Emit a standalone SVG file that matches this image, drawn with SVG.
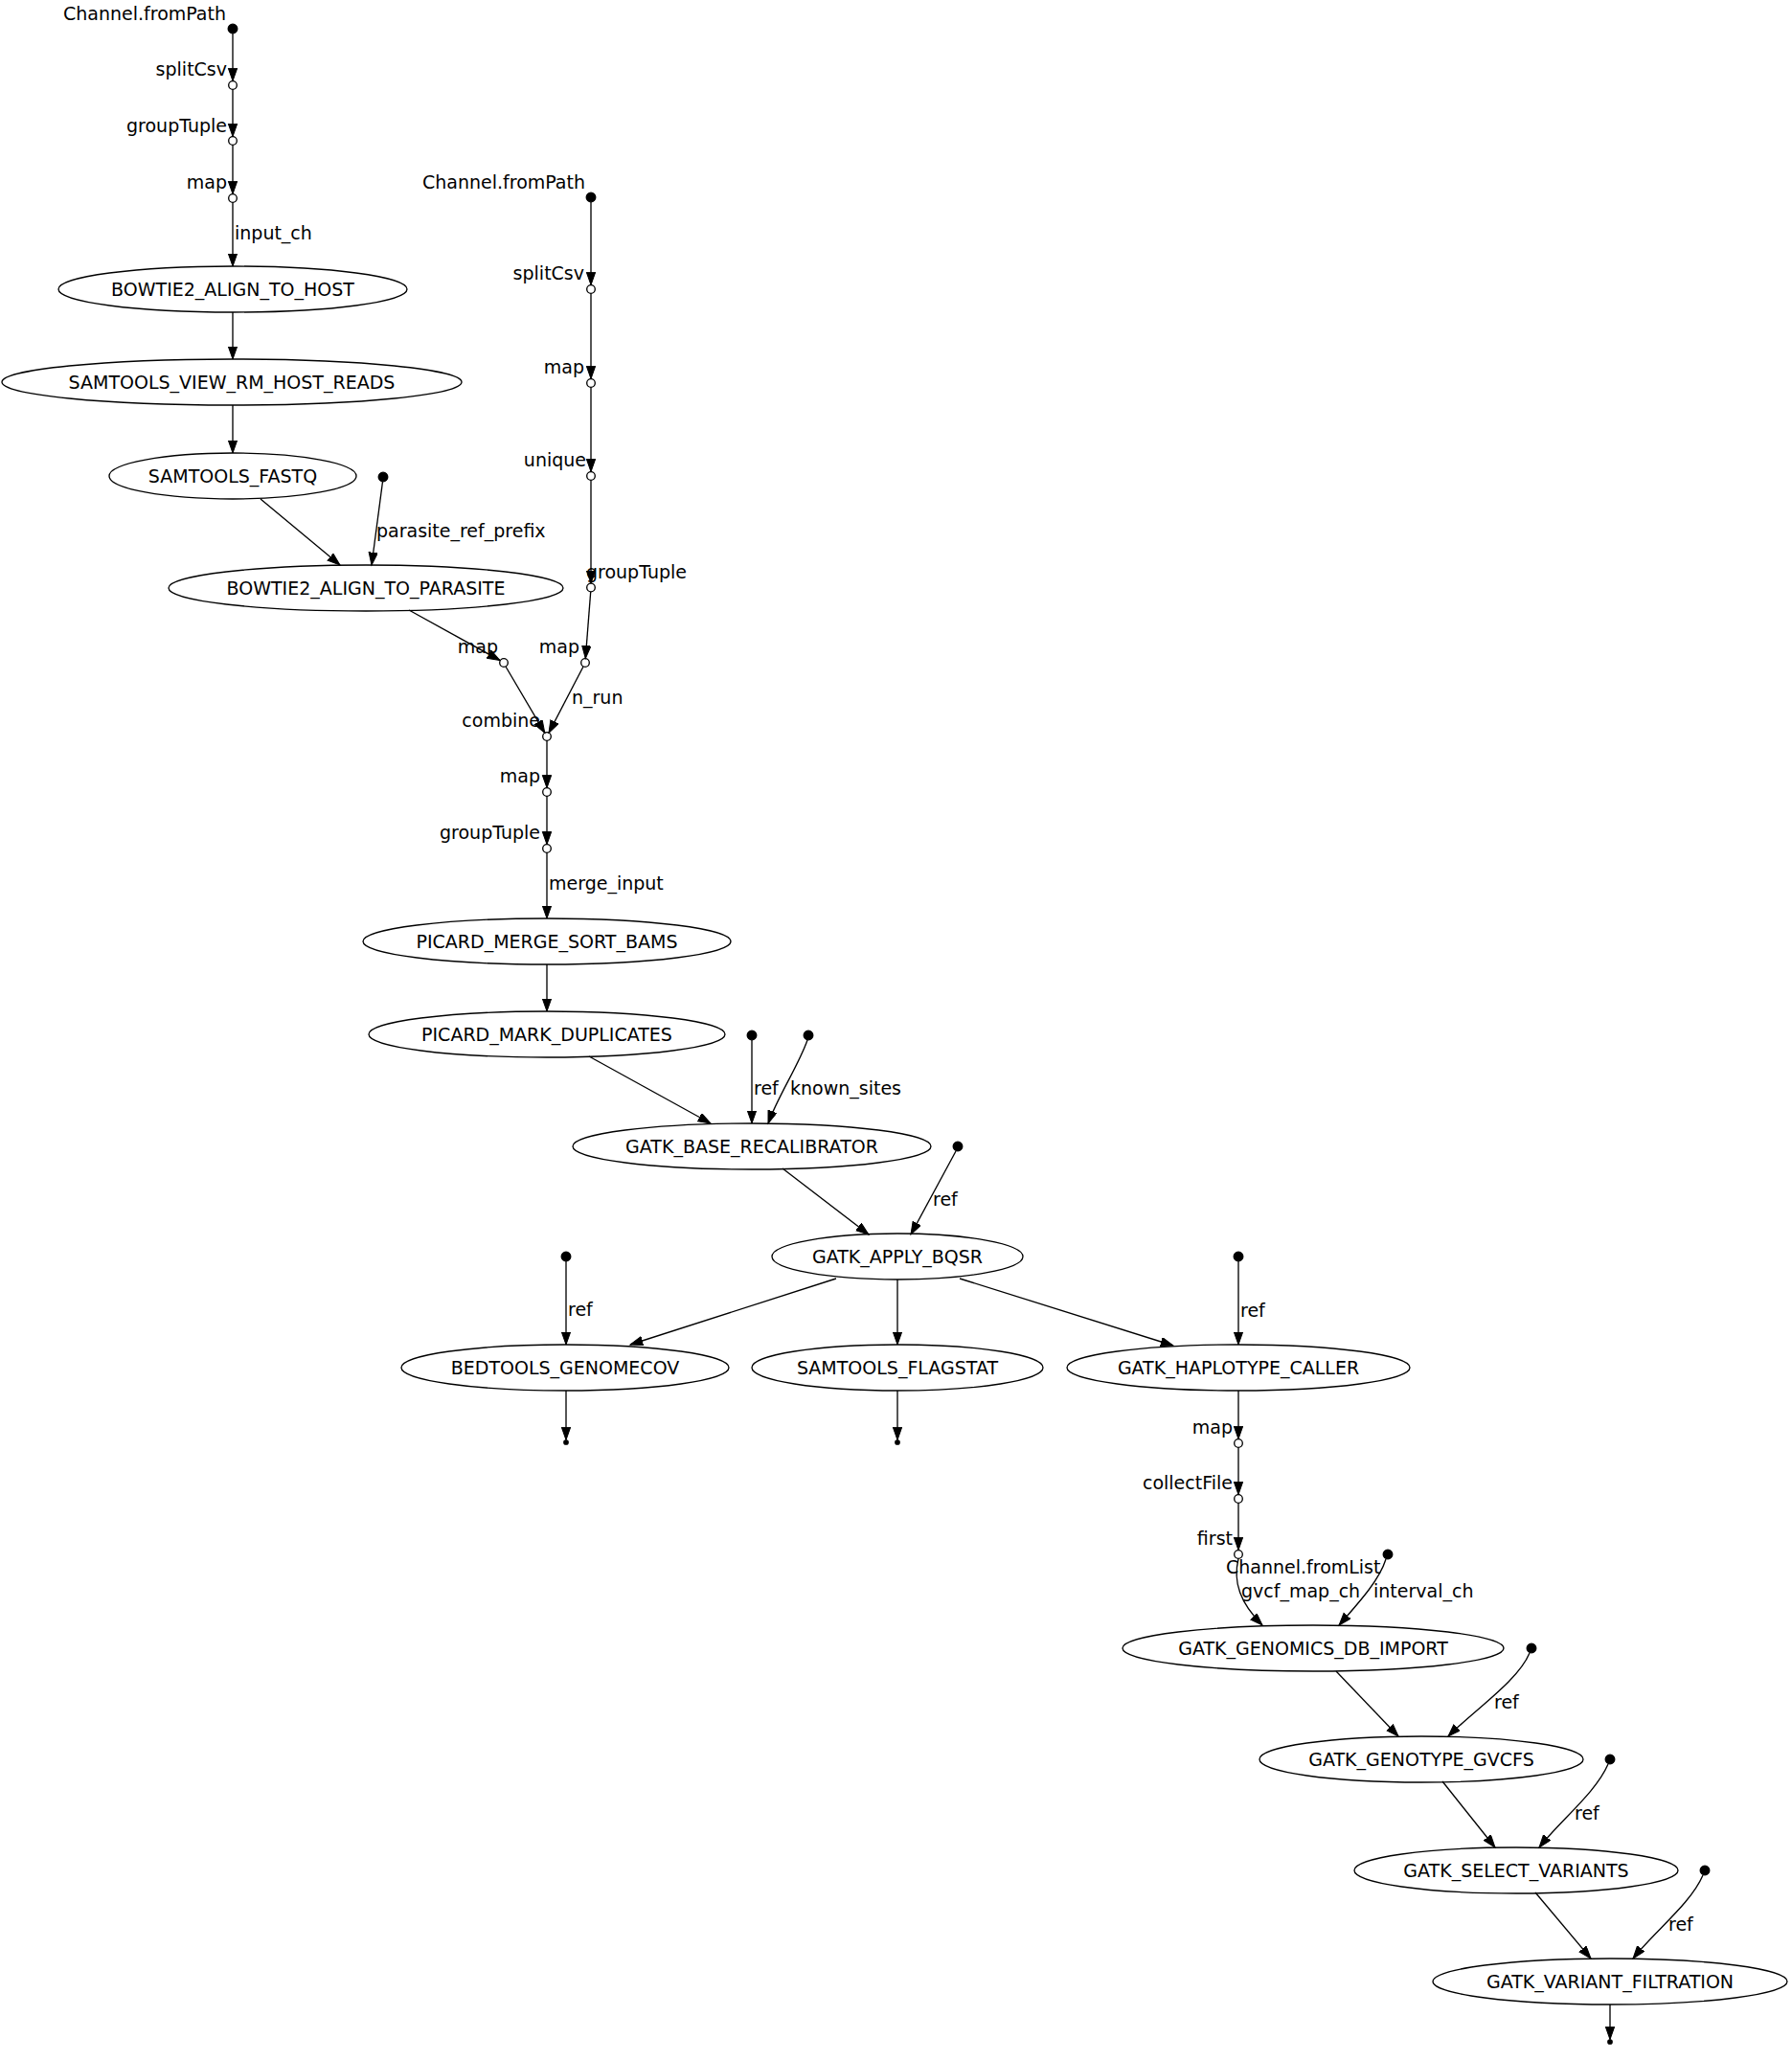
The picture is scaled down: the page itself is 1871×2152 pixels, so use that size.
<svg xmlns="http://www.w3.org/2000/svg" width="1871" height="2152" viewBox="0 0 1871 2152">
<defs>
<style>
text{font-family:"DejaVu Sans","Liberation Sans",sans-serif;font-size:19px;fill:#000}
.proc ellipse{fill:none;stroke:#000;stroke-width:1.33}
.proc text{text-anchor:middle}
.src{fill:#000;stroke:#000;stroke-width:1.33}
.op{fill:#fff;stroke:#000;stroke-width:1.33}
.xl{text-anchor:end}
#edges path,#edges line{fill:none;stroke:#000;stroke-width:1.33;marker-end:url(#arr)}
</style>
<marker id="arr" markerWidth="16" markerHeight="12" refX="13.3" refY="4.7" orient="auto" markerUnits="userSpaceOnUse">
<path d="M0,0 L13.3,4.7 L0,9.4 z" fill="#000" stroke="#000" stroke-width="1"/>
</marker>
</defs>
<rect width="1871" height="2152" fill="#fff"/>

<g id="nodes">
<g id="src1"><circle class="src" cx="243" cy="30" r="4.8"/><text class="xl" x="236" y="21">Channel.fromPath</text></g>
<g id="op_splitCsv1"><circle class="op" cx="243" cy="89" r="4.3"/><text class="xl" x="237" y="79">splitCsv</text></g>
<g id="op_groupTuple1"><circle class="op" cx="243" cy="147" r="4.3"/><text class="xl" x="237" y="138">groupTuple</text></g>
<g id="op_map1"><circle class="op" cx="243" cy="207" r="4.3"/><text class="xl" x="237" y="197">map</text></g>

<g id="src2"><circle class="src" cx="617" cy="206" r="4.8"/><text class="xl" x="611" y="197">Channel.fromPath</text></g>
<g id="op_splitCsv2"><circle class="op" cx="617" cy="302" r="4.3"/><text class="xl" x="610" y="292">splitCsv</text></g>
<g id="op_map2"><circle class="op" cx="617" cy="400" r="4.3"/><text class="xl" x="610" y="390">map</text></g>
<g id="op_unique"><circle class="op" cx="617" cy="497" r="4.3"/><text class="xl" x="612" y="487">unique</text></g>
<g id="op_groupTuple2"><circle class="op" cx="617" cy="613.5" r="4.3"/><text x="612" y="604">groupTuple</text></g>
<g id="op_map3"><circle class="op" cx="611" cy="692" r="4.3"/><text class="xl" x="605" y="682">map</text></g>
<g id="op_map4"><circle class="op" cx="526" cy="692" r="4.3"/><text class="xl" x="520" y="682">map</text></g>
<g id="op_combine"><circle class="op" cx="571" cy="769" r="4.3"/><text class="xl" x="564" y="759">combine</text></g>
<g id="op_map5"><circle class="op" cx="571" cy="827" r="4.3"/><text class="xl" x="564" y="817">map</text></g>
<g id="op_groupTuple3"><circle class="op" cx="571" cy="886" r="4.3"/><text class="xl" x="564" y="876">groupTuple</text></g>

<g id="src_parasite"><circle class="src" cx="400" cy="498" r="4.8"/></g>
<g id="src_ref1"><circle class="src" cx="785" cy="1081" r="4.8"/></g>
<g id="src_known"><circle class="src" cx="844" cy="1081" r="4.8"/></g>
<g id="src_ref2"><circle class="src" cx="1000" cy="1197" r="4.8"/></g>
<g id="src_ref3"><circle class="src" cx="591" cy="1312" r="4.8"/></g>
<g id="src_ref4"><circle class="src" cx="1293" cy="1312" r="4.8"/></g>
<g id="src_fromList"><circle class="src" cx="1449" cy="1623" r="4.8"/><text x="1280" y="1643">Channel.fromList</text></g>
<g id="src_ref5"><circle class="src" cx="1599" cy="1721" r="4.8"/></g>
<g id="src_ref6"><circle class="src" cx="1681" cy="1837" r="4.8"/></g>
<g id="src_ref7"><circle class="src" cx="1780" cy="1953" r="4.8"/></g>

<g id="op_map6"><circle class="op" cx="1293" cy="1507" r="4.3"/><text class="xl" x="1287" y="1497">map</text></g>
<g id="op_collectFile"><circle class="op" cx="1293" cy="1565" r="4.3"/><text class="xl" x="1287" y="1555">collectFile</text></g>
<g id="op_first"><circle class="op" cx="1293" cy="1623" r="4.3"/><text class="xl" x="1287" y="1613">first</text></g>

<g id="end1"><circle class="src" cx="591" cy="1506" r="2.2"/></g>
<g id="end2"><circle class="src" cx="937" cy="1506" r="2.2"/></g>
<g id="end3"><circle class="src" cx="1681" cy="2132" r="2.2"/></g>

<g id="BOWTIE2_ALIGN_TO_HOST" class="proc"><ellipse cx="243" cy="302" rx="182" ry="24"/><text x="243" y="309">BOWTIE2_ALIGN_TO_HOST</text></g>
<g id="SAMTOOLS_VIEW_RM_HOST_READS" class="proc"><ellipse cx="242" cy="399" rx="240" ry="24"/><text x="242" y="406">SAMTOOLS_VIEW_RM_HOST_READS</text></g>
<g id="SAMTOOLS_FASTQ" class="proc"><ellipse cx="243" cy="497" rx="129" ry="24"/><text x="243" y="504">SAMTOOLS_FASTQ</text></g>
<g id="BOWTIE2_ALIGN_TO_PARASITE" class="proc"><ellipse cx="382" cy="614" rx="206" ry="24"/><text x="382" y="621">BOWTIE2_ALIGN_TO_PARASITE</text></g>
<g id="PICARD_MERGE_SORT_BAMS" class="proc"><ellipse cx="571" cy="983" rx="192" ry="24"/><text x="571" y="990">PICARD_MERGE_SORT_BAMS</text></g>
<g id="PICARD_MARK_DUPLICATES" class="proc"><ellipse cx="571" cy="1080" rx="186" ry="24"/><text x="571" y="1087">PICARD_MARK_DUPLICATES</text></g>
<g id="GATK_BASE_RECALIBRATOR" class="proc"><ellipse cx="785" cy="1197" rx="187" ry="24"/><text x="785" y="1204">GATK_BASE_RECALIBRATOR</text></g>
<g id="GATK_APPLY_BQSR" class="proc"><ellipse cx="937" cy="1312" rx="131" ry="24"/><text x="937" y="1319">GATK_APPLY_BQSR</text></g>
<g id="BEDTOOLS_GENOMECOV" class="proc"><ellipse cx="590" cy="1428" rx="171" ry="24"/><text x="590" y="1435">BEDTOOLS_GENOMECOV</text></g>
<g id="SAMTOOLS_FLAGSTAT" class="proc"><ellipse cx="937" cy="1428" rx="152" ry="24"/><text x="937" y="1435">SAMTOOLS_FLAGSTAT</text></g>
<g id="GATK_HAPLOTYPE_CALLER" class="proc"><ellipse cx="1293" cy="1428" rx="179" ry="24"/><text x="1293" y="1435">GATK_HAPLOTYPE_CALLER</text></g>
<g id="GATK_GENOMICS_DB_IMPORT" class="proc"><ellipse cx="1371" cy="1721" rx="199" ry="24"/><text x="1371" y="1728">GATK_GENOMICS_DB_IMPORT</text></g>
<g id="GATK_GENOTYPE_GVCFS" class="proc"><ellipse cx="1484" cy="1837" rx="169" ry="24"/><text x="1484" y="1844">GATK_GENOTYPE_GVCFS</text></g>
<g id="GATK_SELECT_VARIANTS" class="proc"><ellipse cx="1583" cy="1953" rx="169" ry="24"/><text x="1583" y="1960">GATK_SELECT_VARIANTS</text></g>
<g id="GATK_VARIANT_FILTRATION" class="proc"><ellipse cx="1681" cy="2069" rx="185" ry="24"/><text x="1681" y="2076">GATK_VARIANT_FILTRATION</text></g>
</g>

<g id="edges">
<line x1="243" y1="35" x2="243" y2="84.5"/>
<line x1="243" y1="93.5" x2="243" y2="142.5"/>
<line x1="243" y1="151.5" x2="243" y2="202.5"/>
<line x1="243" y1="211.5" x2="243" y2="278"/>
<line x1="243" y1="326" x2="243" y2="375"/>
<line x1="243" y1="423" x2="243" y2="473"/>
<line x1="272" y1="521" x2="355" y2="590"/>
<line x1="399.5" y1="503" x2="388" y2="590"/>
<line x1="427" y1="637" x2="522" y2="689.5"/>
<line x1="617" y1="211" x2="617" y2="297.5"/>
<line x1="617" y1="306.5" x2="617" y2="395.5"/>
<line x1="617" y1="404.5" x2="617" y2="492.5"/>
<line x1="617" y1="501.5" x2="617" y2="609"/>
<line x1="616.7" y1="618" x2="611.3" y2="687.5"/>
<line x1="609" y1="696" x2="573" y2="765.2"/>
<line x1="528" y1="696" x2="568.8" y2="765.3"/>
<line x1="571" y1="773.3" x2="571" y2="822.7"/>
<line x1="571" y1="831.3" x2="571" y2="881.7"/>
<line x1="571" y1="890.3" x2="571" y2="959"/>
<line x1="571" y1="1007" x2="571" y2="1056"/>
<line x1="615" y1="1103" x2="742" y2="1173"/>
<line x1="785" y1="1086" x2="785" y2="1173"/>
<path d="M843,1086 C834,1112 812,1145 802,1173"/>
<line x1="817" y1="1220" x2="907" y2="1289"/>
<line x1="998" y1="1202" x2="951" y2="1289"/>
<line x1="873" y1="1335" x2="658" y2="1404"/>
<line x1="591" y1="1317" x2="591" y2="1404"/>
<line x1="937" y1="1336" x2="937" y2="1404"/>
<line x1="1002" y1="1335" x2="1225" y2="1405"/>
<line x1="1293" y1="1317" x2="1293" y2="1404"/>
<line x1="591" y1="1452" x2="591" y2="1503.5"/>
<line x1="937" y1="1452" x2="937" y2="1503.5"/>
<line x1="1293" y1="1452" x2="1293" y2="1502.5"/>
<line x1="1293" y1="1511.5" x2="1293" y2="1560.5"/>
<line x1="1293" y1="1569.5" x2="1293" y2="1618.5"/>
<path d="M1293,1627.5 C1287,1652 1295,1674 1318,1697"/>
<path d="M1447,1628 C1440,1650 1420,1672 1398,1697"/>
<line x1="1395" y1="1745" x2="1460" y2="1813"/>
<path d="M1597,1726 C1585,1755 1540,1785 1512,1813"/>
<line x1="1506" y1="1860" x2="1561" y2="1929"/>
<path d="M1679,1842 C1666,1872 1630,1900 1607,1929"/>
<line x1="1603" y1="1976" x2="1661" y2="2045"/>
<path d="M1778,1958 C1765,1988 1728,2016 1705,2045"/>
<line x1="1681" y1="2093" x2="1681" y2="2129.5"/>
</g>

<g id="edge-labels">
<text x="245" y="250">input_ch</text>
<text x="393" y="561">parasite_ref_prefix</text>
<text x="597" y="735">n_run</text>
<text x="573" y="929">merge_input</text>
<text x="787" y="1143">ref</text>
<text x="825" y="1143">known_sites</text>
<text x="974" y="1259">ref</text>
<text x="593" y="1374">ref</text>
<text x="1295" y="1375">ref</text>
<text x="1296" y="1668">gvcf_map_ch</text>
<text x="1434" y="1668">interval_ch</text>
<text x="1560" y="1784">ref</text>
<text x="1644" y="1900">ref</text>
<text x="1742" y="2016">ref</text>
</g>
</svg>
